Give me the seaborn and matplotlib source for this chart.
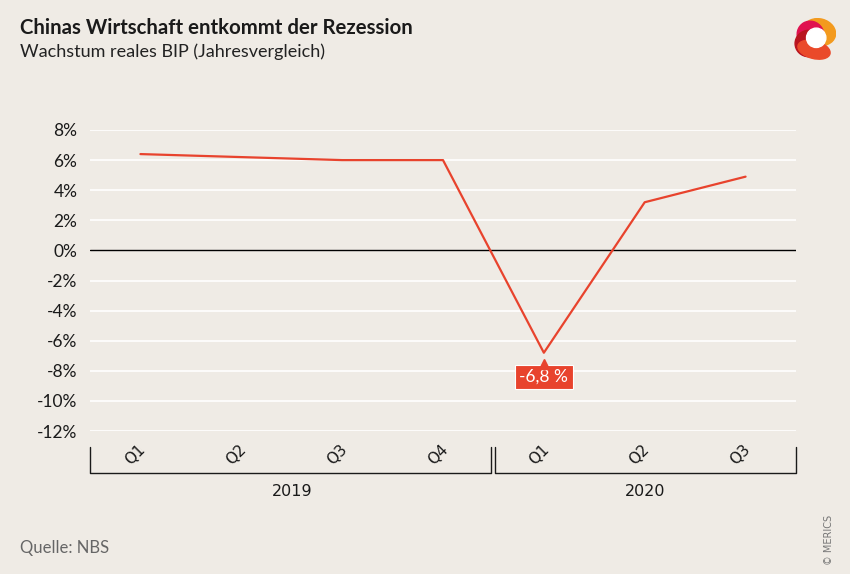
import matplotlib
matplotlib.use("Agg")
import matplotlib.pyplot as plt
import matplotlib.transforms as mtransforms
from matplotlib.patches import Ellipse, Circle
import seaborn as sns
import pandas as pd

# ---- data ----
quarters = ["Q1", "Q2", "Q3", "Q4", "Q1", "Q2", "Q3"]
years = ["2019", "2019", "2019", "2019", "2020", "2020", "2020"]
growth = [6.4, 6.2, 6.0, 6.0, -6.8, 3.2, 4.9]
yticks = [8, 6, 4, 2, 0, -2, -4, -6, -8, -10, -12]
highlight_label = "-6,8 %"

BG = "#efebe5"
RED = "#e8432d"
TXT = "#1a1a1a"

sns.set_theme(style="white")
plt.rcParams["font.family"] = ["Lato", "DejaVu Sans"]

df = pd.DataFrame({"idx": range(len(growth)), "growth": growth,
                   "quarter": quarters, "year": years})

fig = plt.figure(figsize=(8.5, 5.74), dpi=100, facecolor=BG)
ax = fig.add_axes([90/850, 1-431/574, (796-90)/850, (431-130)/574])
ax.set_facecolor(BG)

for y in yticks:
    if y != 0:
        ax.axhline(y, color="white", lw=1.2, zorder=0)
ax.axhline(0, color="black", lw=1.0, zorder=1)

sns.lineplot(data=df, x="idx", y="growth", color=RED, lw=1.6, ax=ax, zorder=3)

ax.set_xlim(-0.5, len(growth) - 0.5)
ax.set_ylim(min(yticks), max(yticks))
ax.set_yticks(yticks)
ax.set_yticklabels([f"{v}%" for v in yticks], fontsize=12.5, color=TXT)
ax.tick_params(axis="y", length=0, pad=9)
ax.set_xticks([])
ax.set_xlabel("")
ax.set_ylabel("")
for s in ax.spines.values():
    s.set_visible(False)

# quarter labels and year brackets
trans = mtransforms.blended_transform_factory(ax.transData, ax.transAxes)
for i, q in enumerate(quarters):
    ax.text(i - 0.05, -0.078, q, rotation=45, ha="center", va="center",
            fontsize=11, color=TXT, transform=trans, family=["DejaVu Sans"])

groups = {}
for i, yr in enumerate(years):
    groups.setdefault(yr, []).append(i)
ytop = -0.053
ybot = -0.14
gap = 0.02
for yr, idxs in groups.items():
    x0 = idxs[0] - 0.5 + (gap if idxs[0] > 0 else 0)
    x1 = idxs[-1] + 0.5 - (gap if idxs[-1] < len(years) - 1 else 0)
    ax.plot([x0, x0, x1, x1], [ytop, ybot, ybot, ytop], color=TXT, lw=1.0,
            transform=trans, clip_on=False)
    ax.text((idxs[0] + idxs[-1]) / 2, -0.2, yr, ha="center", va="center",
            fontsize=11.5, color=TXT, transform=trans, family=["DejaVu Sans"])

# highlight label
imin = growth.index(min(growth))
ax.annotate(highlight_label, xy=(imin, growth[imin]), xytext=(0, -17.5),
            textcoords="offset points", ha="center", va="center",
            color="white", fontsize=12.5,
            bbox=dict(boxstyle="square,pad=0.25", fc=RED, ec="white", lw=0.8),
            zorder=5)
ax.plot([imin], [growth[imin]], marker="^", ms=7, color=RED, mec=RED,
        transform=ax.transData + mtransforms.ScaledTranslation(0, -8/72, fig.dpi_scale_trans),
        zorder=6, clip_on=False)

# titles
fig.text(20/850, 1-28/574, "Chinas Wirtschaft entkommt der Rezession",
         fontsize=14.7, fontweight="bold", color=TXT, va="center")
fig.text(20/850, 1-52/574, "Wachstum reales BIP (Jahresvergleich)",
         fontsize=13, fontweight="normal", color="#222222", va="center")
fig.text(20/850, 1-548/574, "Quelle: NBS", fontsize=12, fontweight="normal",
         color="#666666", va="center")
fig.text(829/850, 1-540/574, "© MERICS", fontsize=7, color="#777777",
         rotation=90, ha="center", va="center", family=["DejaVu Sans"])

# logo
lax = fig.add_axes([792/850, 1-62/574, 44/850, 44/574])
lax.set_xlim(0, 1); lax.set_ylim(0, 1); lax.axis("off")
lax.add_patch(Ellipse((0.62, 0.68), 0.75, 0.6, angle=-15, color="#f39a1e"))
lax.add_patch(Ellipse((0.42, 0.62), 0.6, 0.62, angle=30, color="#e0114f"))
lax.add_patch(Ellipse((0.38, 0.42), 0.62, 0.6, color="#b9141f"))
lax.add_patch(Ellipse((0.5, 0.28), 0.75, 0.4, angle=-15, color="#ea4a2a"))
lax.add_patch(Circle((0.55, 0.55), 0.22, color="white"))

fig.savefig("out.png", dpi=100, facecolor=BG)
